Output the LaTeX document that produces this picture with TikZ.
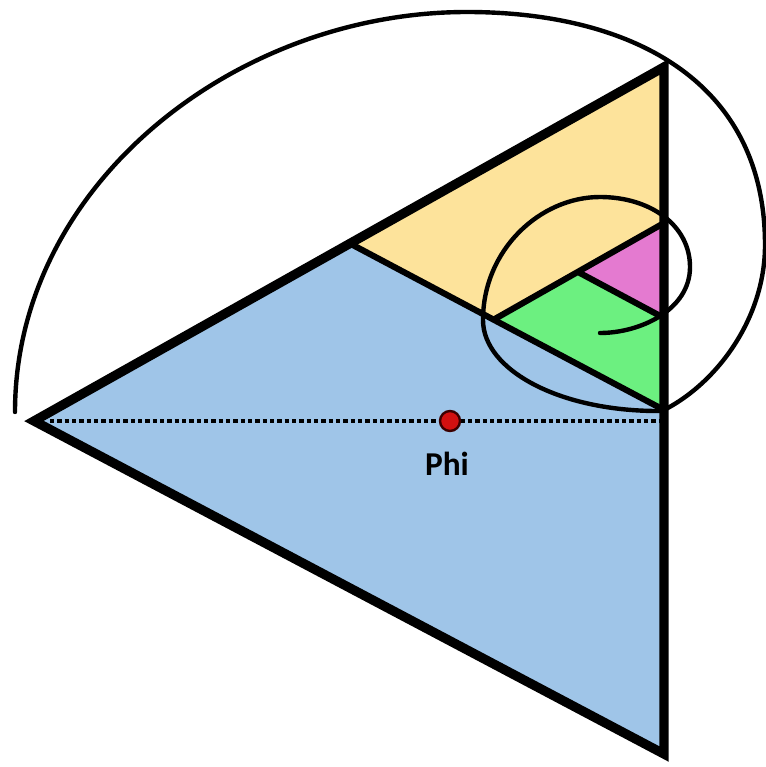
\documentclass[tikz,border=0pt]{standalone}
\usepackage{fontspec}
\setsansfont{Carlito}
\usepackage{tikz}

\begin{document}
\begin{tikzpicture}[x=0.75pt,y=0.75pt,yscale=-1,xscale=1,
  edge/.style={line width=7pt},
  inner/.style={line width=4.6pt},
  spiral/.style={line width=3.3pt, line cap=round}]
\useasboundingbox (0,0) rectangle (766,767);

%Corners of the triangles
\coordinate (A) at (34,421);
\coordinate (B) at (664,67);
\coordinate (C) at (664,754);
\coordinate (P) at (349,243);
\coordinate (D) at (664,410);
\coordinate (Q) at (493,320);
\coordinate (R) at (664,223);
\coordinate (S) at (578,272);
\coordinate (T) at (664,318);

%Shape: Polygon [blue]
\fill [color={rgb, 255:red, 159; green, 197; blue, 232 }] (A) -- (P) -- (D) -- (C) -- cycle ;
%Shape: Polygon [yellow]
\fill [color={rgb, 255:red, 253; green, 227; blue, 155 }] (P) -- (B) -- (R) -- (Q) -- cycle ;
%Shape: Polygon [green]
\fill [color={rgb, 255:red, 108; green, 240; blue, 128 }] (Q) -- (S) -- (T) -- (D) -- cycle ;
%Shape: Polygon [pink]
\fill [color={rgb, 255:red, 228; green, 122; blue, 208 }] (S) -- (R) -- (T) -- cycle ;

%Straight Lines
\draw [edge] (A) -- (B) -- (C) -- cycle ;
\draw [inner] (P) -- (D) ;
\draw [inner] (Q) -- (R) ;
\draw [inner] (S) -- (T) ;

%Straight Lines [dotted]
\draw [line width=3.3pt, dash pattern={on 3.3pt off 2.2pt}] (50,421) -- (D |- 0,421) ;

%Curve Lines [spiral]
\draw [spiral] (15,412) .. controls (15,185) and (235,12) .. (467,12) .. controls (630,12) and (765,80) .. (765,245) .. controls (765,320) and (715,385) .. (662,411) .. controls (560,412) and (483,370) .. (483,320) .. controls (483,250) and (540,197) .. (600,197) .. controls (650,197) and (690,225) .. (690,267) .. controls (690,310) and (640,333) .. (600,333) ;

%Shape: Circle
\draw [line width=1.8pt, color={rgb, 255:red, 60; green, 0; blue, 0 }, fill={rgb, 255:red, 210; green, 16; blue, 16 }] (450,421) circle (10) ;

% Text Node
\draw (447,464) node [inner sep=0.75pt] (phi) {\sffamily\bfseries\fontsize{25}{30}\selectfont Phi};

\end{tikzpicture}
\end{document}
